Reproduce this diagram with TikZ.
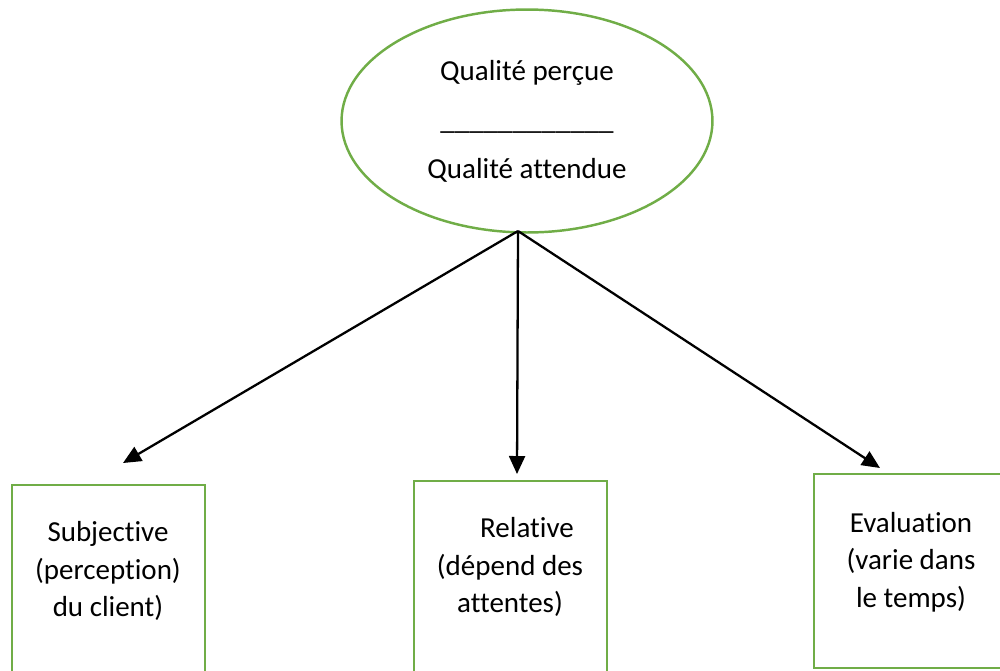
\documentclass[tikz,border=0pt]{standalone}
\usepackage{fontspec}
\setmainfont{Carlito}[Ligatures=NoCommon]
\usetikzlibrary{positioning,shapes.geometric,arrows.meta}
\definecolor{vertoffice}{HTML}{70AD47}
\tikzset{
boite/.style={shape=rectangle, draw=vertoffice, line width=1.4pt, minimum width=3.86cm, minimum height=4cm, anchor=north},
texte/.style={align=center, inner sep=0pt, font=\fontsize{16.5}{21.3}\selectfont},
fleche/.style={-{Triangle[length=0.36cm, width=0.32cm]}, line width=1.3pt, black}
}

\begin{document}
\begin{tikzpicture}[x=0.02cm, y=-0.02cm]
\useasboundingbox (0,0) rectangle (1000,670);
\node[shape=ellipse, draw=vertoffice, line width=1.4pt, minimum width=7.42cm, minimum height=4.46cm, texte] (qualite) at (527,121) {Qualité perçue\\[6.6pt]\_\_\_\_\_\_\_\_\_\_\_\_\\[6.6pt]Qualité attendue};
\node[boite] (subjective) at (108.5,484) {};
\node[boite] (relative) at (510.5,480) {};
\node[boite, minimum height=3.88cm] (evaluation) at (910.5,473) {};
\node[texte] (subjective-txt) at (108,571) {Subjective\\(perception)\\du client)};
\node[texte] (relative-txt) at (510,567) {\hspace*{0.68cm}Relative\\(dépend des\\attentes)};
\node[texte] (evaluation-txt) at (911,562) {Evaluation\\(varie dans\\le temps)};
\coordinate (depart) at (518,231);
\coordinate (vers-subjective) at (123,463);
\coordinate (vers-relative) at (517,474);
\coordinate (vers-evaluation) at (880,468);
\draw[fleche] (depart) -- (vers-subjective);
\draw[fleche] (depart) -- (vers-relative);
\draw[fleche] (depart) -- (vers-evaluation);
\end{tikzpicture}
\end{document}
